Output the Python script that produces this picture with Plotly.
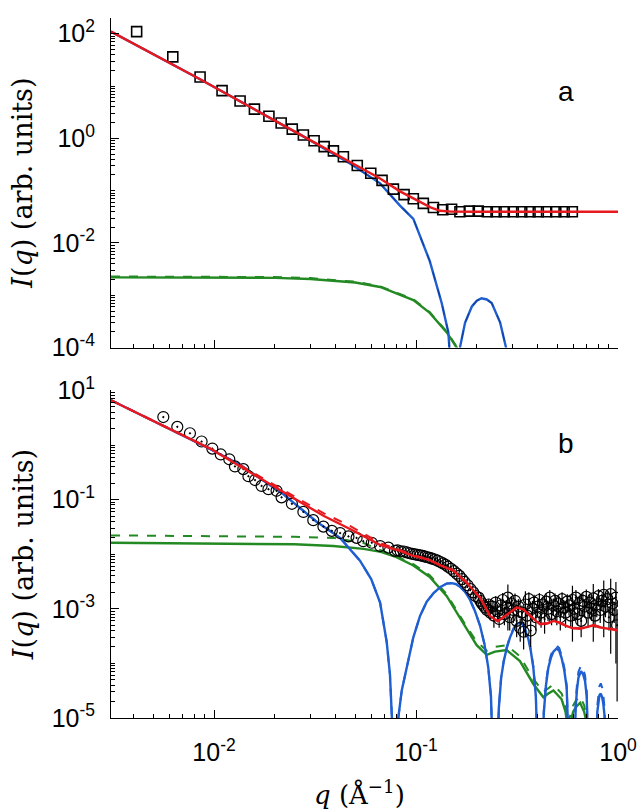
import plotly.graph_objects as go

# ---------------- panel a data ----------------
qa_pts = [0.00414, 0.00625, 0.00853, 0.01096, 0.01346, 0.01585, 0.0187, 0.0215, 0.0244,
          0.0277, 0.0313, 0.0351, 0.0390, 0.0437, 0.0512, 0.0597, 0.0679, 0.0773, 0.0873,
          0.0970, 0.1087, 0.1220, 0.1356, 0.1500, 0.1650, 0.1836, 0.2033, 0.2254, 0.2490,
          0.2735, 0.3030, 0.3336, 0.3667, 0.4030, 0.4430, 0.4920, 0.5410, 0.5940]
Ia_pts = [110, 36.1, 14.9, 8.18, 5.19, 3.62, 2.65, 1.97, 1.50,
          1.16, 0.90, 0.695, 0.575, 0.446, 0.303, 0.215, 0.157, 0.107, 0.084,
          0.0698, 0.0571, 0.0475, 0.0430, 0.0442, 0.0395, 0.0406, 0.0406, 0.0395, 0.0395,
          0.0395, 0.0395, 0.0395, 0.0395, 0.0395, 0.0395, 0.0395, 0.0395, 0.0395]

qa_red = [0.00309, 0.00853, 0.0267, 0.0471, 0.0664, 0.0833, 0.1047, 0.1180, 0.1315, 0.150, 0.200, 0.300, 0.500, 0.700, 1.0]
Ia_red = [110, 13.5, 1.18, 0.35, 0.171, 0.097, 0.0605, 0.0480, 0.0412, 0.0398, 0.0396, 0.0395, 0.0395, 0.0395, 0.0395]

qa_blue = [0.00309, 0.00853, 0.0267, 0.0471, 0.0664, 0.0833, 0.097, 0.117, 0.134, 0.1446, 0.1480, 0.1500,
           0.1610, 0.1650, 0.175, 0.189, 0.200, 0.211, 0.224, 0.237, 0.261, 0.279, 0.284]
Ia_blue = [110, 13.5, 1.18, 0.33, 0.138, 0.0518, 0.0288, 0.0045, 7.1e-4, 1.95e-4, 5e-5, 3e-6,
           3e-6, 1.0e-4, 3.0e-4, 6.1e-4, 7.9e-4, 8.75e-4, 8.3e-4, 7.1e-4, 3.0e-4, 1.0e-4, 3e-6]

qa_green = [0.00309, 0.0100, 0.0200, 0.0300, 0.0400, 0.0500, 0.0664, 0.0970, 0.117, 0.142, 0.159, 0.170]
Ia_green = [2.2e-3, 2.2e-3, 2.15e-3, 2.05e-3, 1.9e-3, 1.75e-3, 1.44e-3, 8.1e-4, 4.6e-4, 1.95e-4, 1.0e-4, 5e-5]
Ia_green_d = [2.3e-3, 2.3e-3, 2.25e-3, 2.15e-3, 2.0e-3, 1.83e-3, 1.5e-3, 8.5e-4, 4.8e-4, 2.05e-4, 1.05e-4, 5.2e-5]

# ---------------- panel b data ----------------
qb_pts = [0.00561, 0.00658, 0.0076, 0.00868, 0.00981, 0.0108, 0.0119, 0.0127, 0.01397, 0.0148,
          0.01596, 0.0172, 0.0186, 0.0204, 0.0216, 0.0243, 0.0277, 0.0310, 0.0348, 0.0383,
          0.0421, 0.0463, 0.0508, 0.0548, 0.0604, 0.0664, 0.0730, 0.0787,
          0.0810, 0.0840, 0.0870, 0.0900, 0.0930, 0.0960, 0.0990, 0.1020, 0.1050, 0.1080,
          0.1110, 0.1140, 0.1170, 0.1200, 0.1240, 0.1280, 0.1320, 0.1360, 0.1400, 0.1440,
          0.1490, 0.1540, 0.1590, 0.1640, 0.1690, 0.1740, 0.1800, 0.1860, 0.1920, 0.1980,
          0.2040, 0.2080, 0.2120, 0.2160, 0.2200, 0.2245, 0.2290, 0.2335, 0.2380, 0.2430,
          0.2480, 0.2530, 0.2580, 0.2630, 0.2685, 0.2740, 0.2795, 0.2850, 0.2910, 0.2970,
          0.3030, 0.3090, 0.3150, 0.3215, 0.3280, 0.3345, 0.3410, 0.3480, 0.3550, 0.3620,
          0.3695, 0.3770, 0.3845, 0.3920, 0.4000, 0.4080, 0.4160, 0.4245, 0.4330, 0.4415,
          0.4505, 0.4595, 0.4690, 0.4785, 0.4880, 0.4980, 0.5080, 0.5180, 0.5285, 0.5390,
          0.5500, 0.5610, 0.5720, 0.5835, 0.5950, 0.6070, 0.6190, 0.6315, 0.6440, 0.6570,
          0.6700, 0.6835, 0.6970, 0.7110, 0.7250, 0.7395, 0.7545, 0.7695, 0.7850, 0.8005,
          0.8165, 0.8330, 0.8500, 0.8670, 0.8845, 0.9020, 0.9200, 0.9385, 0.9575, 0.9765,
          0.9900]
Ib_pts = [3.25, 2.15, 1.64, 1.16, 0.86, 0.671, 0.547, 0.405, 0.362, 0.268,
          0.228, 0.178, 0.155, 0.145, 0.110, 0.0838, 0.0594, 0.042, 0.032, 0.0268,
          0.0244, 0.0212, 0.0199, 0.0173, 0.0162, 0.0141, 0.0132, 0.0115,
          0.0118, 0.0113, 0.0112, 0.0108, 0.0104, 0.0101, 0.0099, 0.0097, 0.0095, 0.0093,
          0.0090, 0.0088, 0.0086, 0.0083, 0.0080, 0.0076, 0.0072, 0.0068, 0.0064, 0.0059,
          0.0054, 0.0049, 0.0044, 0.0040, 0.0035, 0.0031, 0.0027, 0.0023, 0.0020, 0.0017,
          0.00160, 0.00140, 0.00125, 0.00115, 0.00105, 0.00095, 0.00120, 0.00085, 0.00110, 0.00075,
          0.00130, 0.00090, 0.00065, 0.00115, 0.00145, 0.00080, 0.00105, 0.00160, 0.00070, 0.00125,
          0.00095, 0.00140, 0.00060, 0.00110, 0.00045, 0.00085, 0.00038, 0.00120, 0.00075, 0.00150,
          0.00040, 0.00100, 0.00130, 0.00070, 0.00110, 0.00145, 0.00085, 0.00120, 0.00065, 0.00135,
          0.00100, 0.00160, 0.00080, 0.00115, 0.00140, 0.00090, 0.00125, 0.00070, 0.00150, 0.00105,
          0.00085, 0.00135, 0.00115, 0.00075, 0.00145, 0.00100, 0.00160, 0.00080, 0.00125, 0.00060,
          0.00140, 0.00110, 0.00165, 0.00085, 0.00130, 0.00100, 0.00155, 0.00075, 0.00120, 0.00170,
          0.00095, 0.00140, 0.00180, 0.00110, 0.00150, 0.00070, 0.00185, 0.00125, 0.00095, 0.00160,
          0.00050]
Eb_pts = [0, 0, 0, 0, 0, 0, 0, 0, 0, 0,
          0, 0, 0, 0, 0, 0, 0, 0, 0, 0,
          0, 0, 0, 0, 0, 0, 0, 0,
          0.0010, 0.0010, 0.0010, 0.0009, 0.0009, 0.0009, 0.0009, 0.0008, 0.0008, 0.0008,
          0.0008, 0.0008, 0.0007, 0.0007, 0.0007, 0.0006, 0.0006, 0.0006, 0.0005, 0.0005,
          0.0005, 0.0004, 0.0004, 0.0004, 0.0003, 0.0003, 0.0003, 0.0002, 0.0002, 0.0002,
          0.0002, 0.0002, 0.0002, 0.0002, 0.0002, 0.0002, 0.0003, 0.0002, 0.0003, 0.0003,
          0.0004, 0.0003, 0.0002, 0.0004, 0.0005, 0.0003, 0.0004, 0.0012, 0.0003, 0.0004,
          0.0004, 0.0005, 0.0003, 0.0004, 0.0002, 0.0003, 0.0002, 0.0009, 0.0003, 0.0005,
          0.0002, 0.0004, 0.0005, 0.0003, 0.0004, 0.0005, 0.0004, 0.0004, 0.0003, 0.0005,
          0.0004, 0.0006, 0.0003, 0.0004, 0.0005, 0.0004, 0.0005, 0.0003, 0.0005, 0.0004,
          0.0004, 0.0005, 0.0004, 0.0003, 0.0012, 0.0004, 0.0006, 0.0003, 0.0005, 0.0003,
          0.0005, 0.0004, 0.0006, 0.0004, 0.0005, 0.0004, 0.0013, 0.0003, 0.0005, 0.0006,
          0.0004, 0.0005, 0.0015, 0.0004, 0.0006, 0.0003, 0.0017, 0.0005, 0.0004, 0.0015,
          0.00048]

qb_red = [0.00309, 0.0060, 0.00955, 0.0150, 0.0267, 0.0350, 0.0471, 0.0600, 0.0664, 0.0833, 0.097,
          0.1150, 0.1300, 0.1530, 0.1780, 0.2075, 0.2324, 0.2540, 0.2810, 0.3150, 0.3400, 0.3670,
          0.4110, 0.4500, 0.4790, 0.5100, 0.5500, 0.6000, 0.6490, 0.7000, 0.7550, 0.8100, 0.8790,
          0.9300, 1.0]
Ib_red = [6.6, 2.0, 0.86, 0.32, 0.0895, 0.050, 0.029, 0.018, 0.0148, 0.0115, 0.0093,
          0.0080, 0.0064, 0.0050, 0.0030, 0.0016, 7.4e-4, 5.9e-4, 7.6e-4, 1.05e-3, 9.8e-4, 7.4e-4,
          5.2e-4, 5.4e-4, 6.0e-4, 5.6e-4, 4.9e-4, 4.4e-4, 4.3e-4, 4.7e-4, 5.0e-4, 4.6e-4, 4.3e-4,
          4.2e-4, 4.0e-4]
Ib_red_d = [6.6, 2.0, 0.87, 0.34, 0.098, 0.056, 0.033, 0.020, 0.0160, 0.0120, 0.0095,
            0.0081, 0.0065, 0.0051, 0.0031, 0.0016, 7.6e-4, 6.0e-4, 7.7e-4, 1.06e-3, 9.9e-4, 7.5e-4,
            5.3e-4, 5.5e-4, 6.1e-4, 5.7e-4, 5.0e-4, 4.5e-4, 4.4e-4, 4.8e-4, 5.1e-4, 4.7e-4, 4.4e-4,
            4.3e-4, 4.1e-4]

qb_blue = [0.00309, 0.0060, 0.00955, 0.01346, 0.022, 0.0322, 0.0421, 0.0528, 0.0600, 0.0664, 0.0716,
           0.0743, 0.0760, 0.0775,
           0.0795, 0.0817, 0.0850, 0.0900, 0.0970, 0.1047, 0.1130, 0.1220, 0.1320, 0.1420, 0.1500,
           0.1570, 0.1650, 0.1750, 0.1850, 0.1960, 0.2075, 0.2180, 0.2280, 0.2350, 0.2400,
           0.2530, 0.2570, 0.2640, 0.2720, 0.2810, 0.2920, 0.3040, 0.3150, 0.3270, 0.3360, 0.3450,
           0.3600, 0.3700, 0.3810, 0.3920, 0.4000,
           0.4240, 0.4290, 0.4400, 0.4520, 0.4650, 0.4790, 0.4970, 0.5120, 0.5260, 0.5420, 0.5570,
           0.5660, 0.5720,
           0.6090, 0.6170, 0.6260, 0.6370, 0.6560, 0.6720, 0.6870, 0.7000, 0.7120,
           0.7830, 0.7900, 0.8000, 0.8090, 0.8220, 0.8350, 0.8460, 0.8580, 0.8650]
Ib_blue = [6.6, 2.0, 0.85, 0.434, 0.126, 0.0394, 0.0199, 7.6e-3, 3.5e-3, 1.3e-3, 2.47e-4,
           6.3e-5, 1.5e-5, 2e-6,
           2e-6, 1.0e-5, 3.2e-5, 8.3e-5, 3.0e-4, 7.4e-4, 1.35e-3, 1.93e-3, 2.5e-3, 2.9e-3, 2.95e-3,
           2.85e-3, 2.54e-3, 2.05e-3, 1.47e-3, 9.0e-4, 4.9e-4, 2.3e-4, 8.3e-5, 2.5e-5, 2e-6,
           2e-6, 1.5e-5, 5.5e-5, 1.1e-4, 1.88e-4, 3.0e-4, 4.2e-4, 5.2e-4, 5.6e-4, 5.2e-4, 4.3e-4,
           2.8e-4, 1.7e-4, 8.3e-5, 2.5e-5, 2e-6,
           2e-6, 1.2e-5, 4.0e-5, 8.3e-5, 1.25e-4, 1.64e-4, 1.88e-4, 1.7e-4, 1.25e-4, 7.5e-5, 3.6e-5,
           1.2e-5, 2e-6,
           2e-6, 1.5e-5, 3.2e-5, 5.5e-5, 7.2e-5, 6.3e-5, 4.7e-5, 2.5e-5, 2e-6,
           2e-6, 1.3e-5, 2.0e-5, 2.6e-5, 2.8e-5, 2.4e-5, 1.8e-5, 1.1e-5, 2e-6]
Ib_blue_d = [6.6, 2.0, 0.85, 0.434, 0.126, 0.0394, 0.0199, 7.6e-3, 3.5e-3, 1.3e-3, 2.47e-4,
             6.3e-5, 1.5e-5, 2e-6,
             2e-6, 1.0e-5, 3.2e-5, 8.3e-5, 3.0e-4, 7.4e-4, 1.35e-3, 1.93e-3, 2.5e-3, 2.9e-3, 2.95e-3,
             2.85e-3, 2.54e-3, 2.05e-3, 1.47e-3, 9.0e-4, 4.9e-4, 2.3e-4, 8.3e-5, 2.5e-5, 2e-6,
             2e-6, 1.5e-5, 5.7e-5, 1.15e-4, 1.95e-4, 3.1e-4, 4.4e-4, 5.4e-4, 5.9e-4, 5.5e-4, 4.5e-4,
             3.0e-4, 1.8e-4, 8.8e-5, 2.6e-5, 2e-6,
             2e-6, 1.3e-5, 4.4e-5, 9.2e-5, 1.4e-4, 1.85e-4, 2.1e-4, 1.9e-4, 1.4e-4, 8.4e-5, 4.0e-5,
             1.3e-5, 2e-6,
             2e-6, 1.8e-5, 4.0e-5, 7.0e-5, 9.2e-5, 8.0e-5, 6.0e-5, 3.1e-5, 2e-6,
             2e-6, 1.7e-5, 2.8e-5, 3.8e-5, 4.3e-5, 3.6e-5, 2.6e-5, 1.5e-5, 2e-6]

qb_green = [0.00309, 0.0150, 0.0250, 0.0390, 0.0550, 0.0670, 0.0800, 0.0970, 0.1170, 0.1420, 0.1700,
            0.1996, 0.2240, 0.2460, 0.2810, 0.3270, 0.3810, 0.4270, 0.4520, 0.4790, 0.5260, 0.5500,
            0.5650, 0.5800, 0.6000, 0.6200, 0.6490, 0.6800, 0.7000, 0.7300]
Ib_green = [0.0162, 0.0158, 0.0152, 0.0141, 0.0125, 0.0110, 0.0088, 6.2e-3, 3.84e-3, 1.7e-3, 5.6e-4,
            2.16e-4, 1.43e-4, 1.64e-4, 1.75e-4, 1.1e-4, 4.2e-5, 2.4e-5, 2.8e-5, 3.2e-5, 2.2e-5, 1.3e-5,
            6e-6, 8e-6, 1.3e-5, 1.6e-5, 1.9e-5, 1.3e-5, 8e-6, 3e-6]
Ib_green_d = [0.0221, 0.0215, 0.0208, 0.0199, 0.0160, 0.0118, 0.0092, 6.6e-3, 4.1e-3, 1.85e-3, 6.2e-4,
              2.5e-4, 1.7e-4, 2.0e-4, 2.15e-4, 1.35e-4, 5.2e-5, 3.0e-5, 3.5e-5, 4.1e-5, 2.8e-5, 1.7e-5,
              8e-6, 1.1e-5, 1.7e-5, 2.1e-5, 2.5e-5, 1.7e-5, 1.0e-5, 4e-6]

# ---------------- styling ----------------
RED = "#e8191e"
BLUE = "#1f5fd1"
GREEN = "#238a23"
LW = 2.4

fig = go.Figure()

def line(q, I, color, xa, ya, dash="solid", width=LW):
    fig.add_trace(go.Scatter(x=q, y=I, mode="lines", xaxis=xa, yaxis=ya,
                             line=dict(color=color, width=width, dash=dash),
                             showlegend=False, hoverinfo="skip"))

# panel a
line(qa_green, Ia_green, GREEN, "x", "y")
line(qa_green, Ia_green_d, GREEN, "x", "y", dash="dash", width=1.6)
line(qa_blue, Ia_blue, BLUE, "x", "y")
line(qa_blue, Ia_blue, "#1040a0", "x", "y", dash="dash", width=1.2)
fig.add_trace(go.Scatter(x=qa_pts, y=Ia_pts, mode="markers", xaxis="x", yaxis="y",
                         marker=dict(symbol="square-open", size=10, color="black",
                                     line=dict(width=1.6, color="black")),
                         showlegend=False))
line(qa_red, Ia_red, RED, "x", "y")

# panel b
line(qb_green, Ib_green, GREEN, "x2", "y2")
line(qb_green, Ib_green_d, GREEN, "x2", "y2", dash="dash", width=2.0)
line(qb_blue, Ib_blue, BLUE, "x2", "y2")
line(qb_blue, Ib_blue_d, BLUE, "x2", "y2", dash="dash", width=2.0)
fig.add_trace(go.Scatter(x=qb_pts, y=Ib_pts, mode="markers", xaxis="x2", yaxis="y2",
                         marker=dict(symbol="circle-open-dot", size=11, color="black",
                                     line=dict(width=1.2, color="black")),
                         error_y=dict(type="data", array=Eb_pts, symmetric=True,
                                      color="black", thickness=1.2, width=0),
                         showlegend=False))
line(qb_red, Ib_red_d, RED, "x2", "y2", dash="dash", width=2.0)
line(qb_red, Ib_red, RED, "x2", "y2")

TICKFONT = dict(family="Liberation Sans, Arial, sans-serif", size=25, color="black")

def minor_vals(lo, hi):
    return [k * 10.0 ** e for e in range(lo, hi) for k in range(2, 10)]

xcommon = dict(type="log", range=[-2.51, 0], showline=True, linecolor="black", linewidth=1,
               ticks="inside", ticklen=8, tickcolor="black", showgrid=False, zeroline=False,
               tickvals=[0.01, 0.1, 1],
               minor=dict(ticks="inside", ticklen=4, tickcolor="black", showgrid=False,
                          tickvals=minor_vals(-3, 0)),
               tickfont=TICKFONT, mirror=False)

fig.update_layout(
    width=640, height=812,
    margin=dict(l=111, r=22, t=0, b=94),
    paper_bgcolor="white", plot_bgcolor="white",
    xaxis=dict(**xcommon, anchor="y", domain=[0, 1], showticklabels=False),
    xaxis2=dict(**xcommon, anchor="y2", domain=[0, 1],
                ticktext=["10<sup>-2</sup>", "10<sup>-1</sup>", "10<sup>0</sup>"],
                ticklabelstandoff=12),
    yaxis=dict(type="log", range=[-4, 2.301], domain=[0.5292, 1], anchor="x",
               showline=True, linecolor="black", linewidth=1, ticks="inside", ticklen=8,
               tickcolor="black", showgrid=False, zeroline=False,
               tickvals=[1e-4, 1e-2, 1, 1e2],
               ticktext=["10<sup>-4</sup>", "10<sup>-2</sup>", "10<sup>0</sup>", "10<sup>2</sup>"],
               minor=dict(ticks="inside", ticklen=4, tickcolor="black", showgrid=False,
                          tickvals=[v for v in minor_vals(-4, 3) if v < 200] + [1e-3, 1e-1, 10]),
               tickfont=TICKFONT, ticklabelstandoff=10),
    yaxis2=dict(type="log", range=[-5, 1], domain=[0, 0.468], anchor="x2",
                showline=True, linecolor="black", linewidth=1, ticks="inside", ticklen=8,
                tickcolor="black", showgrid=False, zeroline=False,
                tickvals=[1e-5, 1e-3, 1e-1, 10],
                ticktext=["10<sup>-5</sup>", "10<sup>-3</sup>", "10<sup>-1</sup>", "10<sup>1</sup>"],
                minor=dict(ticks="inside", ticklen=4, tickcolor="black", showgrid=False,
                           tickvals=minor_vals(-5, 1) + [1e-4, 1e-2, 1]),
                tickfont=TICKFONT, ticklabelstandoff=10),
)

SERIF = "DejaVu Serif, Liberation Serif, serif"
for yc in (0.7646, 0.234):
    fig.add_annotation(text="<i>I</i>(<i>q</i>) (arb. units)", xref="paper", yref="paper",
                       x=-0.1736, y=yc, textangle=-90, showarrow=False,
                       font=dict(family=SERIF, size=27, color="black"),
                       xanchor="center", yanchor="middle")
fig.add_annotation(text="<i>q</i> (Å<sup>−1</sup>)", xref="paper", yref="paper",
                   x=0.49, y=-0.107, showarrow=False,
                   font=dict(family=SERIF, size=26, color="black"),
                   xanchor="center", yanchor="middle")
fig.add_annotation(text="a", xref="paper", yref="paper", x=0.897, y=0.8955, showarrow=False,
                   font=dict(family="Liberation Sans, Arial, sans-serif", size=28, color="black"),
                   xanchor="center", yanchor="middle")
fig.add_annotation(text="b", xref="paper", yref="paper", x=0.897, y=0.3928, showarrow=False,
                   font=dict(family="Liberation Sans, Arial, sans-serif", size=28, color="black"),
                   xanchor="center", yanchor="middle")

fig.write_html("out.html")
